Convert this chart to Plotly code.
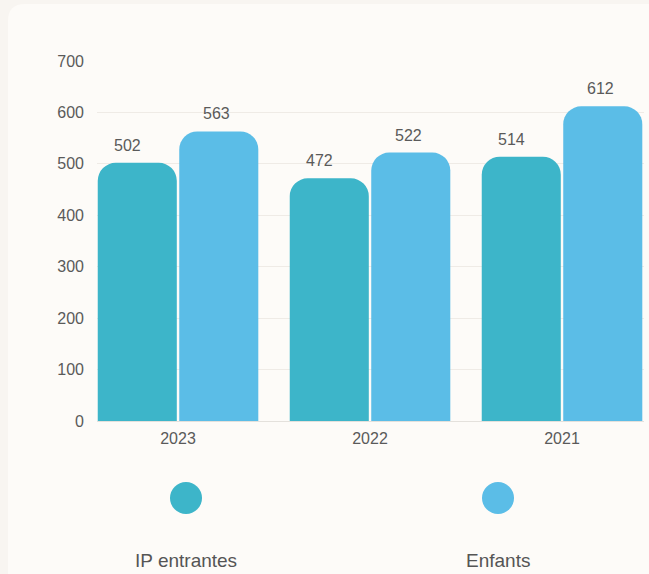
import plotly.graph_objects as go

# ---- data ----
years = ["2023", "2022", "2021"]
ip_entrantes = [502, 472, 514]
enfants = [563, 522, 612]
series_names = ["IP entrantes", "Enfants"]
series_colors = ["#3db5c9", "#5bbde7"]
y_ticks = [0, 100, 200, 300, 400, 500, 600, 700]

W, H = 649, 574
L, R, T, B = 97, 644, 61, 421  # plot area in pixels


def px(xp):
    return (xp - L) / (R - L)


def py(yp):
    return (B - yp) / (B - T)


BARGAP = 0.151
GROUPGAP = 0.03

fig = go.Figure()
for name, vals, col in zip(series_names, [ip_entrantes, enfants], series_colors):
    fig.add_trace(go.Bar(
        x=years, y=vals, name=name,
        marker=dict(color=col, cornerradius=18, line=dict(width=0)),
        hoverinfo="skip", showlegend=False,
    ))

# value labels above bars
slot = (1 - BARGAP) / 2
label_xshift = [-10, -2]
annotations = []
for si, vals in enumerate([ip_entrantes, enfants]):
    off = (si - 0.5) * slot
    for ci, v in enumerate(vals):
        annotations.append(dict(
            x=ci + off, y=v, xref="x", yref="y", text=str(v), showarrow=False,
            yanchor="bottom", yshift=7, xshift=label_xshift[si],
            font=dict(size=16, color="#5a5a5a", family="Liberation Sans, Arial, sans-serif"),
        ))

# custom legend: circle with label underneath
legend_x = [186, 498]
shapes = []
# card background
shapes.append(dict(
    type="path", xref="paper", yref="paper", layer="below",
    path=(f"M {px(8)},{py(600)} L {px(8)},{py(21)} Q {px(8)},{py(4)} {px(25)},{py(4)} "
          f"L {px(670)},{py(4)} L {px(670)},{py(600)} Z"),
    fillcolor="#fdfbf8", line=dict(width=0),
))
for name, col, lx in zip(series_names, series_colors, legend_x):
    shapes.append(dict(
        type="circle", xref="paper", yref="paper",
        x0=px(lx - 16), x1=px(lx + 16), y0=py(498 + 16), y1=py(498 - 16),
        fillcolor=col, line=dict(width=0),
    ))
    annotations.append(dict(
        x=px(lx), y=py(560), xref="paper", yref="paper", text=name, showarrow=False,
        xanchor="center", yanchor="middle",
        font=dict(size=19, color="#555555", family="Liberation Sans, Arial, sans-serif"),
    ))

fig.update_layout(
    width=W, height=H,
    margin=dict(l=L, r=W - R, t=T, b=H - B, pad=0),
    paper_bgcolor="#f8f5f1", plot_bgcolor="rgba(0,0,0,0)",
    barmode="group", bargap=BARGAP, bargroupgap=GROUPGAP,
    font=dict(family="Liberation Sans, Arial, sans-serif", color="#5a5a5a"),
    xaxis=dict(
        type="category", range=[-0.422, 2.427], showgrid=False,
        showline=True, linecolor="#e4e1dc", linewidth=1,
        tickfont=dict(size=16, color="#5a5a5a"), ticks="", ticklabelstandoff=3,
        fixedrange=True,
    ),
    yaxis=dict(
        range=[0, 700], tickvals=y_ticks, showgrid=True, gridcolor="#efebe6", gridwidth=1,
        zeroline=False, showline=False,
        tickfont=dict(size=16, color="#5a5a5a"), ticks="", ticklabelstandoff=12,
        fixedrange=True,
    ),
    annotations=annotations, shapes=shapes,
)

fig.write_html("out.html", config={"displayModeBar": False})
